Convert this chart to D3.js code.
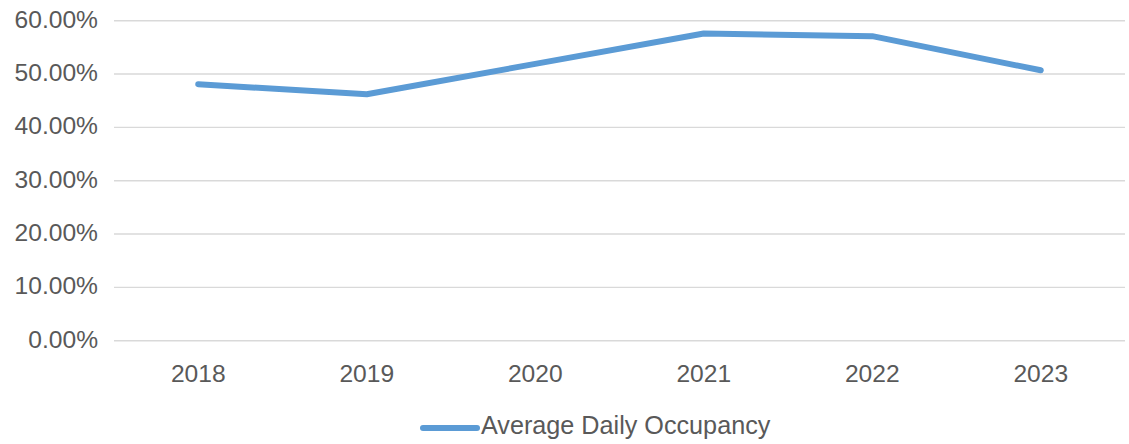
<!DOCTYPE html>
<html>
<head>
<meta charset="utf-8">
<script src="https://cdn.jsdelivr.net/npm/d3@7"></script>
<style>
  body { margin: 0; background: #fff; }
  text { font-family: "Liberation Sans", Arial, sans-serif; fill: #595959; }
</style>
</head>
<body>
<svg width="1129" height="444"></svg>
<script>
// chart data
const years = ['2018', '2019', '2020', '2021', '2022', '2023'];
const occupancy = [0.481, 0.462, 0.519, 0.576, 0.571, 0.507];
const yTicks = [0, 0.1, 0.2, 0.3, 0.4, 0.5, 0.6];
const seriesName = 'Average Daily Occupancy';

const svg = d3.select('svg'),
      plotLeft = 114, plotRight = 1125, plotTop = 20.7, plotBottom = 340.7;

const x = d3.scaleBand().domain(years).range([plotLeft, plotRight]);
const y = d3.scaleLinear().domain([0, 0.6]).range([plotBottom, plotTop]);
const fmt = d3.format('.2%');

// gridlines
svg.append('g')
  .selectAll('line')
  .data(yTicks)
  .enter()
  .append('line')
  .attr('x1', plotLeft).attr('x2', plotRight)
  .attr('y1', d => y(d)).attr('y2', d => y(d))
  .attr('stroke', '#d9d9d9')
  .attr('stroke-width', 1.4);

// y axis labels
svg.append('g')
  .selectAll('text')
  .data(yTicks)
  .enter()
  .append('text')
  .attr('x', 98)
  .attr('y', d => y(d) + 7)
  .attr('text-anchor', 'end')
  .style('font-size', '24.6px')
  .text(d => fmt(d));

// x axis labels
svg.append('g')
  .selectAll('text')
  .data(years)
  .enter()
  .append('text')
  .attr('x', d => x(d) + x.bandwidth() / 2)
  .attr('y', 382)
  .attr('text-anchor', 'middle')
  .style('font-size', '24.6px')
  .text(d => d);

// series line
const line = d3.line()
  .x((d, i) => x(years[i]) + x.bandwidth() / 2)
  .y(d => y(d));

svg.append('path')
  .datum(occupancy)
  .attr('d', line)
  .attr('fill', 'none')
  .attr('stroke', '#5b9bd5')
  .attr('stroke-width', 6)
  .attr('stroke-linecap', 'round')
  .attr('stroke-linejoin', 'round');

// legend
const legend = svg.append('g');
legend.append('line')
  .attr('x1', 423).attr('x2', 477)
  .attr('y1', 428).attr('y2', 428)
  .attr('stroke', '#5b9bd5')
  .attr('stroke-width', 6)
  .attr('stroke-linecap', 'round');
legend.append('text')
  .attr('x', 481)
  .attr('y', 434)
  .style('font-size', '25.2px')
  .text(seriesName);
</script>
</body>
</html>
